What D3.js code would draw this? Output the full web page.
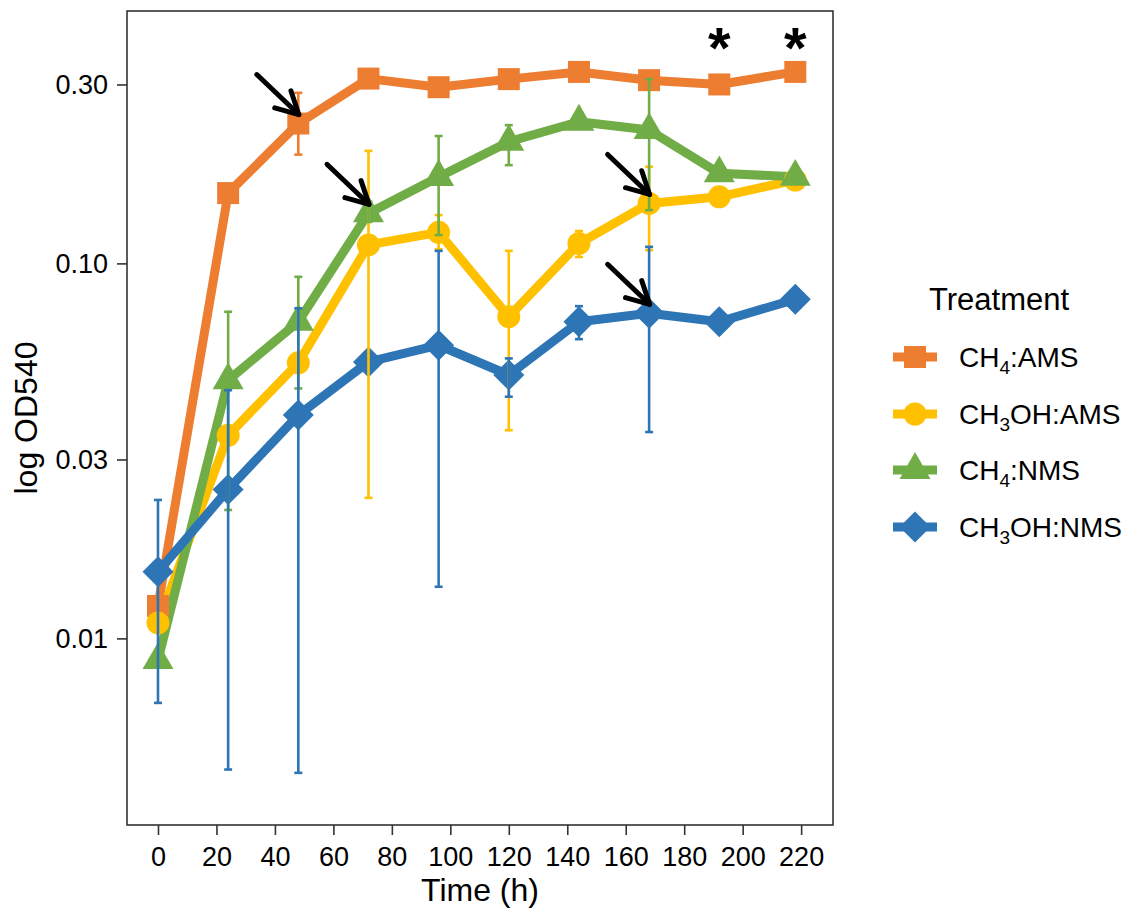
<!DOCTYPE html>
<html><head><meta charset="utf-8">
<script src="https://cdn.jsdelivr.net/npm/d3@7"></script>
<style>body{margin:0;background:#fff} text{font-family:"Liberation Sans",Arial,Helvetica,sans-serif;fill:#000}</style>
</head><body><svg id="chart" width="1133" height="911"></svg>
<script>
// ---- data ----
const times = [0, 24, 48, 72, 96, 120, 144, 168, 192, 218];
const seriesNames = ["CH4:AMS", "CH3OH:AMS", "CH4:NMS", "CH3OH:NMS"];
const seriesColors = ["#ED7D31", "#FFC000", "#70AD47", "#2E75B6"];
const seriesShapes = ["square", "circle", "triangle", "diamond"];

const ch4AMS    = [0.0122, 0.154, 0.236, 0.311, 0.295, 0.310, 0.324, 0.308, 0.300, 0.324];
const ch4AMSLo  = [null, null, 0.195, null, null, null, null, null, null, null];
const ch4AMSHi  = [null, null, 0.285, null, null, null, null, null, null, null];

const ch3ohAMS   = [0.0110, 0.0348, 0.0543, 0.112, 0.121, 0.0721, 0.113, 0.1445, 0.1505, 0.1668];
const ch3ohAMSLo = [null, null, null, 0.0237, 0.109, 0.0359, 0.104, 0.1085, null, null];
const ch3ohAMSHi = [null, null, null, 0.1995, 0.1345, 0.108, 0.122, 0.181, null, null];

const ch4NMS    = [0.00875, 0.0488, 0.0699, 0.136, 0.170, 0.211, 0.2386, 0.2267, 0.1738, 0.1702];
const ch4NMSLo  = [null, 0.0220, 0.0464, 0.129, 0.119, 0.1828, null, 0.1387, null, null];
const ch4NMSHi  = [null, 0.0743, 0.0921, 0.146, 0.2186, 0.2337, null, 0.310, null, null];

const ch3ohNMS   = [0.01505, 0.02496, 0.0394, 0.0546, 0.0605, 0.0504, 0.0699, 0.0736, 0.0699, 0.0802];
const ch3ohNMSLo = [0.00673, 0.00447, 0.00438, null, 0.01373, 0.0441, 0.0628, 0.0355, null, null];
const ch3ohNMSHi = [0.0234, 0.0459, 0.0759, null, 0.108, 0.0558, 0.0769, 0.1107, null, null];

const xTicks = [0, 20, 40, 60, 80, 100, 120, 140, 160, 180, 200, 220];
const yTicks = [0.01, 0.03, 0.10, 0.30];
const yTickLabels = ["0.01", "0.03", "0.10", "0.30"];

// arrows point at (series, time); asterisks at times
const arrowTargets = [["CH4:AMS", 48], ["CH4:NMS", 72], ["CH3OH:AMS", 168], ["CH3OH:NMS", 168]];
const asteriskTimes = [192, 218];

const xTitle = "Time (h)";
const yTitle = "log OD540";
const legendTitle = "Treatment";

// ---- build ----
const valueSets = [ch4AMS, ch3ohAMS, ch4NMS, ch3ohNMS];
const loSets = [ch4AMSLo, ch3ohAMSLo, ch4NMSLo, ch3ohNMSLo];
const hiSets = [ch4AMSHi, ch3ohAMSHi, ch4NMSHi, ch3ohNMSHi];
const series = seriesNames.map((name, i) => ({
  name, color: seriesColors[i], shape: seriesShapes[i],
  points: times.map((t, j) => ({t, v: valueSets[i][j], lo: loSets[i][j], hi: hiSets[i][j]}))
}));

const svg = d3.select("#chart");
const L = 127, R = 833, T = 11, B = 825;
const x = d3.scaleLinear().domain([-10.6, 230.9]).range([L, R]);
const y = d3.scaleLog().domain([0.00318, 0.471]).range([B, T]);

const axisColor = "#333";
// x axis
const gx = svg.append("g").attr("transform", `translate(0,${B})`)
  .call(d3.axisBottom(x).tickValues(xTicks).tickFormat(d3.format("d")).tickSize(10).tickPadding(12));
gx.select(".domain").remove();
gx.selectAll("line").attr("stroke", axisColor).attr("stroke-width", 1.6);
gx.selectAll("text").attr("font-size", 27).attr("fill", "#000").style("font-family", "Liberation Sans, Arial, sans-serif");

// y axis
const gy = svg.append("g").attr("transform", `translate(${L},0)`)
  .call(d3.axisLeft(y).tickValues(yTicks).tickFormat((d, i) => yTickLabels[i]).tickSize(10).tickPadding(9));
gy.select(".domain").remove();
gy.selectAll("line").attr("stroke", axisColor).attr("stroke-width", 1.6);
gy.selectAll("text").attr("font-size", 27).attr("fill", "#000").style("font-family", "Liberation Sans, Arial, sans-serif");

// clip
svg.append("defs").append("clipPath").attr("id", "clip")
  .append("rect").attr("x", L).attr("y", T).attr("width", R - L).attr("height", B - T);
const plot = svg.append("g").attr("clip-path", "url(#clip)");

// symbols
function symbolPath(shape) {
  if (shape === "square") return d3.symbol(d3.symbolSquare, 22 * 22)();
  if (shape === "circle") return d3.symbol(d3.symbolCircle, Math.PI * 11.5 * 11.5)();
  if (shape === "triangle") return d3.symbol(d3.symbolTriangle, Math.sqrt(3) / 4 * 31 * 31)();
  const h = 15.5; // diamond half-diagonal
  return `M0,${-h}L${h},0L0,${h}L${-h},0Z`;
}

const line = d3.line().x(d => x(d.t)).y(d => y(d.v));
// lines
series.forEach(s => {
  plot.append("path").datum(s.points).attr("d", line)
    .attr("fill", "none").attr("stroke", s.color).attr("stroke-width", 9)
    .attr("stroke-linejoin", "round");
});
// points
series.forEach(s => {
  plot.selectAll(null).data(s.points).enter().append("path")
    .attr("d", symbolPath(s.shape))
    .attr("transform", d => `translate(${x(d.t)},${y(d.v)})`)
    .attr("fill", s.color);
});
// error bars
const capW = 4;
series.forEach(s => {
  const eb = s.points.filter(d => d.lo != null && d.hi != null);
  const g = plot.append("g").attr("stroke", s.color).attr("stroke-width", 2.6);
  g.selectAll(null).data(eb).enter().append("line")
    .attr("x1", d => x(d.t)).attr("x2", d => x(d.t)).attr("y1", d => y(d.lo)).attr("y2", d => y(d.hi));
  g.selectAll(null).data(eb).enter().append("line")
    .attr("x1", d => x(d.t) - capW).attr("x2", d => x(d.t) + capW).attr("y1", d => y(d.lo)).attr("y2", d => y(d.lo));
  g.selectAll(null).data(eb).enter().append("line")
    .attr("x1", d => x(d.t) - capW).attr("x2", d => x(d.t) + capW).attr("y1", d => y(d.hi)).attr("y2", d => y(d.hi));
});

// arrows
arrowTargets.forEach(([name, t]) => {
  const s = series.find(q => q.name === name);
  const p = s.points.find(q => q.t === t);
  const tx = x(t) + 0.5, ty = y(p.v) - 9;
  const sx = tx - 42, sy = ty - 40;
  const ang = Math.atan2(ty - sy, tx - sx);
  const hl = 25, ha = 28 * Math.PI / 180;
  const a1 = [tx - hl * Math.cos(ang - ha), ty - hl * Math.sin(ang - ha)];
  const a2 = [tx - hl * Math.cos(ang + ha), ty - hl * Math.sin(ang + ha)];
  const g = svg.append("g").attr("stroke", "#000").attr("stroke-width", 5).attr("fill", "none")
    .attr("stroke-linecap", "round").attr("stroke-linejoin", "round");
  g.append("path").attr("d", `M${sx},${sy}L${tx},${ty}`);
  g.append("path").attr("d", `M${a1[0]},${a1[1]}L${tx},${ty}L${a2[0]},${a2[1]}`);
});

// asterisks
svg.selectAll(null).data(asteriskTimes).enter().append("text")
  .attr("x", d => x(d)).attr("y", 68).attr("text-anchor", "middle")
  .attr("font-size", 58).attr("font-weight", "bold").text("*");

// panel border
svg.append("rect").attr("x", L).attr("y", T).attr("width", R - L).attr("height", B - T)
  .attr("fill", "none").attr("stroke", axisColor).attr("stroke-width", 1.6);

// axis titles
svg.append("text").attr("x", (L + R) / 2).attr("y", 901).attr("text-anchor", "middle")
  .attr("font-size", 32).text(xTitle);
svg.append("text").attr("transform", `translate(37,${(T + B) / 2}) rotate(-90)`)
  .attr("text-anchor", "middle").attr("font-size", 32).text(yTitle);

// legend
function chemLabel(sel, label) {
  const parts = label.match(/^([A-Z]+)(\d)(.*)$/);
  sel.append("tspan").text(parts[1]);
  sel.append("tspan").attr("font-size", 19).attr("dy", 7).text(parts[2]);
  sel.append("tspan").attr("dy", -7).text(parts[3]);
}
svg.append("text").attr("x", 929).attr("y", 310).attr("font-size", 31).text(legendTitle);
const rowY = [357, 414, 470, 527];
series.forEach((s, i) => {
  const g = svg.append("g").attr("transform", `translate(915,${rowY[i]})`);
  g.append("line").attr("x1", -22).attr("x2", 22).attr("stroke", s.color).attr("stroke-width", 9);
  g.append("path").attr("d", symbolPath(s.shape)).attr("fill", s.color);
  const tx = svg.append("text").attr("x", 959).attr("y", rowY[i] + 10).attr("font-size", 28);
  chemLabel(tx, s.name);
});
</script></body></html>
